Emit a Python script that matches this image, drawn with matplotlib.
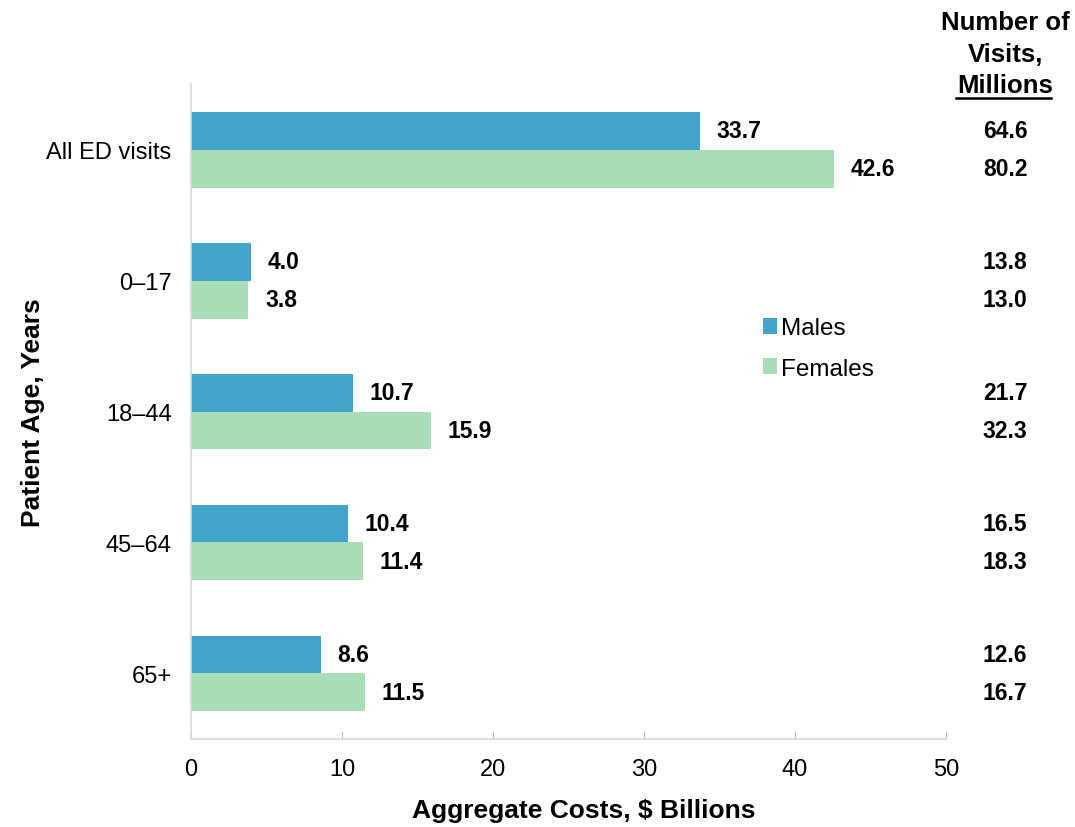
import matplotlib
matplotlib.use('Agg')
import matplotlib.pyplot as plt
import matplotlib.transforms as mtransforms
import numpy as np

plt.rcParams['font.family'] = ['Liberation Sans', 'DejaVu Sans']

groups = ['All ED visits', '0\u201317', '18\u201344', '45\u201364', '65+']
males_cost = [33.7, 4.0, 10.7, 10.4, 8.6]
females_cost = [42.6, 3.8, 15.9, 11.4, 11.5]
males_visits = [64.6, 13.8, 21.7, 16.5, 12.6]
females_visits = [80.2, 13.0, 32.3, 18.3, 16.7]

MALE_COLOR = '#42A3CB'
FEMALE_COLOR = '#A9DDB5'
BAR_H = 0.29

fig = plt.figure(figsize=(10.75, 8.28), dpi=100)
ax = fig.add_axes([0.1777, 0.1063, 0.7023, 0.791])

y = np.arange(len(groups))
ax.barh(y - BAR_H / 2, males_cost, height=BAR_H, color=MALE_COLOR, label='Males')
ax.barh(y + BAR_H / 2, females_cost, height=BAR_H, color=FEMALE_COLOR, label='Females')

for i in range(len(groups)):
    ax.text(males_cost[i] + 1.1, y[i] - BAR_H / 2, '{:.1f}'.format(males_cost[i]),
            va='center', ha='left', fontsize=16.5, fontweight='bold')
    ax.text(females_cost[i] + 1.1, y[i] + BAR_H / 2, '{:.1f}'.format(females_cost[i]),
            va='center', ha='left', fontsize=16.5, fontweight='bold')

# visits column on the right
trans = mtransforms.blended_transform_factory(fig.transFigure, ax.transData)
for i in range(len(groups)):
    fig.text(0.935, y[i] - BAR_H / 2, '{:.1f}'.format(males_visits[i]), transform=trans,
             va='center', ha='center', fontsize=16.5, fontweight='bold')
    fig.text(0.935, y[i] + BAR_H / 2, '{:.1f}'.format(females_visits[i]), transform=trans,
             va='center', ha='center', fontsize=16.5, fontweight='bold')

fig.text(0.935, 0.972, 'Number of', ha='center', va='center', fontsize=18.5, fontweight='bold')
fig.text(0.935, 0.933, 'Visits,', ha='center', va='center', fontsize=18.5, fontweight='bold')
fig.text(0.935, 0.896, 'Millions', ha='center', va='center', fontsize=18.5, fontweight='bold')
fig.add_artist(plt.Line2D([0.889, 0.978], [0.881, 0.881], color='black', lw=1.8,
                          transform=fig.transFigure))

ax.set_xlim(0, 50)
ax.set_ylim(len(groups) - 0.5, -0.5)
ax.set_xticks([0, 10, 20, 30, 40, 50])
ax.set_yticks(y)
ax.set_yticklabels(groups)
ax.tick_params(axis='x', direction='in', length=6, color='#BFBFBF', labelsize=17, pad=14)
ax.tick_params(axis='y', length=0, labelsize=17, pad=14)

for s in ['top', 'right']:
    ax.spines[s].set_visible(False)
ax.spines['left'].set_color('#D9D9D9')
ax.spines['bottom'].set_color('#D9D9D9')
ax.spines['left'].set_linewidth(1.2)
ax.spines['bottom'].set_linewidth(1.2)

ax.set_xlabel('Aggregate Costs, $ Billions', fontsize=19, fontweight='bold')
ax.set_ylabel('Patient Age, Years', fontsize=19, fontweight='bold')
ax.xaxis.set_label_coords(0.52, -0.09)
ax.yaxis.set_label_coords(-0.193, 0.5)

ax.legend(loc='upper left', bbox_to_anchor=(0.728, 0.677), frameon=False, fontsize=17.5,
          handlelength=0.6, handleheight=0.6, handletextpad=0.15, labelspacing=0.75)

fig.savefig('out.png', dpi=100)
